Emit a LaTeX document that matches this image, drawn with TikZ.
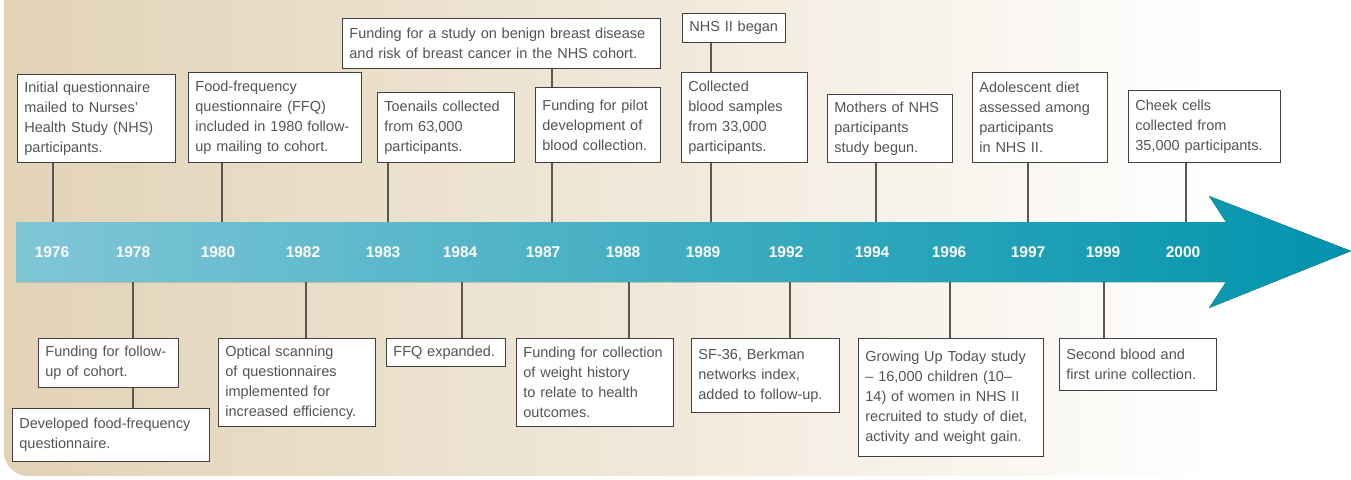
\documentclass[tikz,border=0pt]{standalone}
\usepackage{fontspec}
\setmainfont{Liberation Sans}
\usetikzlibrary{positioning}
\definecolor{nhstan}{RGB}{226,211,183}
\definecolor{nhscream}{RGB}{241,233,219}
\definecolor{nhslight}{RGB}{128,198,215}
\definecolor{nhsmid}{RGB}{22,165,192}
\definecolor{nhsteal}{RGB}{0,148,172}
\definecolor{nhstext}{RGB}{84,84,84}
\definecolor{nhsline}{RGB}{92,86,80}
\pgfdeclarehorizontalshading{nhsbackdrop}{100bp}{color(0bp)=(nhstan);
    color(25bp)=(nhstan); color(50bp)=(nhscream); color(70bp)=(white);
    color(100bp)=(white)}
\tikzset{
    evbox/.style={draw=black!75, line width=0.8pt, fill=white, align=left,
        text=nhstext, font=\fontsize{14.5}{20}\selectfont,
        inner xsep=7pt, inner ysep=5pt},
    yearlabel/.style={text=white, font=\fontsize{15.5}{18}\selectfont\bfseries},
    tickline/.style={draw=nhsline, line width=1.2pt}
}

\begin{document}
\begin{tikzpicture}[x=1pt, y=-1pt]
        \useasboundingbox (0,0) rectangle (1351,479);

        % backdrop and time arrow
        \shade[shading=nhsbackdrop]
            (4,-2) [rounded corners=24pt] -- (4,476) [sharp corners]
            -- (1353,476) -- (1353,-2) -- cycle;
        \fill[left color=nhslight, middle color=nhsmid, right color=nhsteal]
            (16,222) -- (1226,222) -- (1209,196) -- (1351,251)
            -- (1209,308) -- (1226,282) -- (16,282) -- cycle;
        \coordinate (bandtop) at (0,222);
        \coordinate (bandbot) at (0,282);

        % years
        \node[yearlabel] (y1976) at (52,252) {1976};
        \node[yearlabel] (y1978) at (133,252) {1978};
        \node[yearlabel] (y1980) at (218,252) {1980};
        \node[yearlabel] (y1982) at (303,252) {1982};
        \node[yearlabel] (y1983) at (383,252) {1983};
        \node[yearlabel] (y1984) at (460,252) {1984};
        \node[yearlabel] (y1987) at (543,252) {1987};
        \node[yearlabel] (y1988) at (623,252) {1988};
        \node[yearlabel] (y1989) at (703,252) {1989};
        \node[yearlabel] (y1992) at (786,252) {1992};
        \node[yearlabel] (y1994) at (872,252) {1994};
        \node[yearlabel] (y1996) at (949,252) {1996};
        \node[yearlabel] (y1997) at (1028,252) {1997};
        \node[yearlabel] (y1999) at (1103,252) {1999};
        \node[yearlabel] (y2000) at (1183,252) {2000};

        % events above the arrow
        \node[evbox, anchor=south west, minimum width=158pt, text width=144pt,
            minimum height=88pt] (ev76) at (17,163)
            {Initial questionnaire\\mailed to Nurses’\\Health Study (NHS)\\participants.};
        \node[evbox, anchor=south west, minimum width=173pt, text width=159pt,
            minimum height=90pt] (ev80) at (188,163)
            {Food-frequency\\questionnaire (FFQ)\\included in 1980 follow-\\up mailing to cohort.};
        \node[evbox, anchor=south west, minimum width=318pt, text width=304pt,
            minimum height=50pt] (ev87top) at (342,69)
            {Funding for a study on benign breast disease\\and risk of breast cancer in the NHS cohort.};
        \node[evbox, anchor=south west, minimum width=137pt, text width=123pt,
            minimum height=70pt] (ev83) at (377,163)
            {Toenails collected\\from 63,000\\participants.};
        \node[evbox, anchor=south west, minimum width=125pt, text width=111pt,
            minimum height=75pt] (ev87) at (535,163)
            {Funding for pilot\\development of\\blood collection.};
        \node[evbox, anchor=south west, minimum width=103pt, text width=89pt,
            minimum height=29pt] (ev89top) at (682,43)
            {NHS II began};
        \node[evbox, anchor=south west, minimum width=126pt, text width=112pt,
            minimum height=90pt] (ev89) at (681,163)
            {Collected\\blood samples\\from 33,000\\participants.};
        \node[evbox, anchor=south west, minimum width=125pt, text width=111pt,
            minimum height=68pt] (ev94) at (827,163)
            {Mothers of NHS\\participants\\study begun.};
        \node[evbox, anchor=south west, minimum width=135pt, text width=121pt,
            minimum height=90pt] (ev97) at (972,163)
            {Adolescent diet\\assessed among\\participants\\in NHS II.};
        \node[evbox, anchor=south west, minimum width=152pt, text width=138pt,
            minimum height=72pt] (ev00) at (1128,163)
            {Cheek cells\\collected from\\35,000 participants.};

        % events below the arrow
        \node[evbox, anchor=north west, minimum width=140pt, text width=126pt,
            minimum height=49pt] (ev78) at (38,338)
            {Funding for follow-\\up of cohort.};
        \node[evbox, anchor=north west, minimum width=197pt, text width=183pt,
            minimum height=53pt] (ev78low) at (12,408)
            {Developed food-frequency\\questionnaire.};
        \node[evbox, anchor=north west, minimum width=157pt, text width=143pt,
            minimum height=88pt] (ev82) at (218,338)
            {Optical scanning\\of questionnaires\\implemented for\\increased efficiency.};
        \node[evbox, anchor=north west, minimum width=119pt, text width=105pt,
            minimum height=28pt] (ev84) at (386,338)
            {FFQ expanded.};
        \node[evbox, anchor=north west, minimum width=157pt, text width=143pt,
            minimum height=88pt] (ev88) at (516,338)
            {Funding for collection\\of weight history\\to relate to health\\outcomes.};
        \node[evbox, anchor=north west, minimum width=148pt, text width=134pt,
            minimum height=74pt] (ev92) at (691,338)
            {SF-36, Berkman\\networks index,\\added to follow-up.};
        \node[evbox, anchor=north west, minimum width=185pt, text width=171pt,
            minimum height=118pt] (ev96) at (858,338)
            {Growing Up Today study\\– 16,000 children (10–\\14) of women in NHS II\\recruited to study of diet,\\activity and weight gain.};
        \node[evbox, anchor=north west, minimum width=157pt, text width=143pt,
            minimum height=52pt] (ev99) at (1059,338)
            {Second blood and\\first urine collection.};

        % tick positions
        \coordinate (k76) at (53,0);
        \coordinate (k78) at (133,0);
        \coordinate (k80) at (222,0);
        \coordinate (k82) at (306,0);
        \coordinate (k83) at (388,0);
        \coordinate (k84) at (462,0);
        \coordinate (k87) at (552,0);
        \coordinate (k88) at (629,0);
        \coordinate (k89) at (711,0);
        \coordinate (k92) at (790,0);
        \coordinate (k94) at (876,0);
        \coordinate (k96) at (950,0);
        \coordinate (k97) at (1028,0);
        \coordinate (k99) at (1104,0);
        \coordinate (k00) at (1186,0);

        % ticks
        \draw[tickline] (k76 |- ev76.south) -- (k76 |- bandtop);
        \draw[tickline] (k80 |- ev80.south) -- (k80 |- bandtop);
        \draw[tickline] (k83 |- ev83.south) -- (k83 |- bandtop);
        \draw[tickline] (k87 |- ev87top.south) -- (k87 |- ev87.north);
        \draw[tickline] (k87 |- ev87.south) -- (k87 |- bandtop);
        \draw[tickline] (k89 |- ev89top.south) -- (k89 |- ev89.north);
        \draw[tickline] (k89 |- ev89.south) -- (k89 |- bandtop);
        \draw[tickline] (k94 |- ev94.south) -- (k94 |- bandtop);
        \draw[tickline] (k97 |- ev97.south) -- (k97 |- bandtop);
        \draw[tickline] (k00 |- ev00.south) -- (k00 |- bandtop);
        \draw[tickline] (k78 |- bandbot) -- (k78 |- ev78.north);
        \draw[tickline] (k78 |- ev78.south) -- (k78 |- ev78low.north);
        \draw[tickline] (k82 |- bandbot) -- (k82 |- ev82.north);
        \draw[tickline] (k84 |- bandbot) -- (k84 |- ev84.north);
        \draw[tickline] (k88 |- bandbot) -- (k88 |- ev88.north);
        \draw[tickline] (k92 |- bandbot) -- (k92 |- ev92.north);
        \draw[tickline] (k96 |- bandbot) -- (k96 |- ev96.north);
        \draw[tickline] (k99 |- bandbot) -- (k99 |- ev99.north);
    \end{tikzpicture}
\end{document}
